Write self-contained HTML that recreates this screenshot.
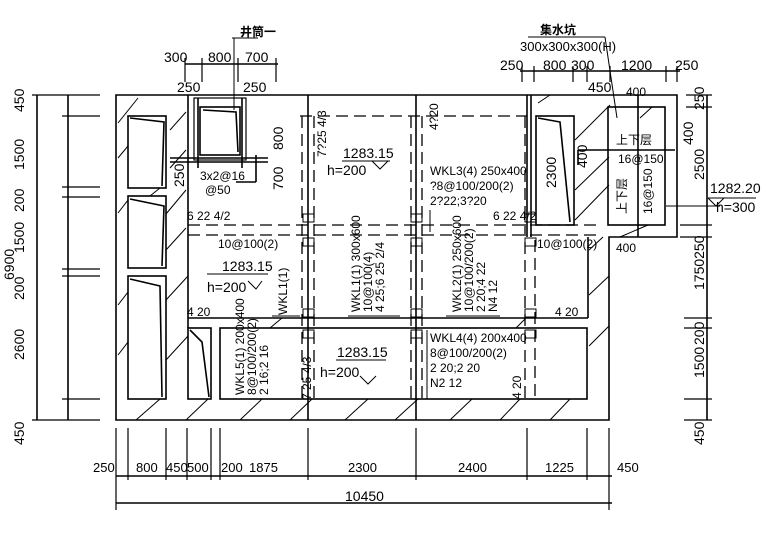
<!DOCTYPE html>
<html><head><meta charset="utf-8"><style>
html,body{margin:0;padding:0;background:#fff;width:780px;height:536px;overflow:hidden}
svg{display:block}
text{font-family:"Liberation Sans Narrow","Liberation Sans","Noto Sans CJK SC",sans-serif;fill:#000}
</style></head><body>
<svg width="780" height="536" viewBox="0 0 780 536" xmlns="http://www.w3.org/2000/svg">
<g stroke="#000" stroke-width="1.6" fill="none">
<path d="M116 95 H677 V237 H609 V420 H116 Z"/>
<line x1="188" y1="95" x2="188" y2="328"/>
<line x1="188" y1="318" x2="588" y2="318"/>
<line x1="588" y1="237" x2="588" y2="318"/>
<line x1="308" y1="95" x2="308" y2="420"/>
<line x1="416" y1="95" x2="416" y2="420"/>
<line x1="527" y1="95" x2="527" y2="237"/>
<line x1="531" y1="95" x2="531" y2="237"/>
<rect x="128" y="116" width="38" height="72"/>
<rect x="128" y="196" width="38" height="72"/>
<rect x="128" y="276" width="38" height="123"/>
<rect x="188" y="328" width="23" height="71"/>
<rect x="220" y="328" width="367" height="71"/>
<rect x="200" y="107" width="40" height="48"/>
<rect x="536" y="116" width="38" height="109"/>
<rect x="608" y="107" width="57" height="118"/>
<line x1="638" y1="95" x2="638" y2="237"/>
<line x1="578" y1="150" x2="675" y2="150"/>
<line x1="578" y1="150" x2="578" y2="165"/>
<path d="M130 118 L164 122 L162 186"/><path d="M130 199 L164 206 L162 266"/><path d="M130 279 L160 286 L162 397"/>
<path d="M190 330 L202 342 L209 397"/><path d="M538 118 L560 122 L570 222"/><path d="M203 110 L236 112 L238 152"/>
<rect x="194" y="98" width="52" height="62" stroke-width="1.2"/>
<line x1="198" y1="98" x2="198" y2="168"/><line x1="242" y1="98" x2="242" y2="168"/>
<line x1="170" y1="158" x2="268" y2="158"/><line x1="170" y1="162" x2="268" y2="162"/>
<line x1="256" y1="155" x2="256" y2="182"/><line x1="236" y1="182" x2="256" y2="182"/>
<g stroke-width="1">
<path d="M118 123 L138 98 M118 158 L128 146 M170 130 L186 112 M170 168 L186 150 M118 213 L128 200 M166 214 L186 190 M166 250 L186 228 M150 196 L160 188 M118 305 L128 292 M118 355 L128 342 M166 300 L188 276 M166 360 L188 336 M136 420 L160 399 M186 420 L208 399 M240 420 L262 399 M290 420 L312 399 M345 420 L368 399 M395 420 L418 399 M450 420 L472 399 M500 420 L520 399 M550 420 L570 399 M589 346 L609 326 M589 295 L609 276 M589 250 L603 237 M538 103 L550 95 M575 140 L610 105 M575 190 L609 157 M575 220 L609 185 M270 328 L282 318 M516 328 L526 318 M620 237 L648 225 M640 118 L652 107"/>
</g>
<g stroke-dasharray="12,6" stroke-width="1.3">
<line x1="300" y1="116" x2="527" y2="116"/>
<line x1="188" y1="225" x2="600" y2="225"/>
<line x1="188" y1="235" x2="600" y2="235"/>
<line x1="302" y1="116" x2="302" y2="399"/><line x1="314" y1="116" x2="314" y2="399"/>
<line x1="411" y1="116" x2="411" y2="399"/><line x1="422" y1="116" x2="422" y2="399"/>
<line x1="525" y1="116" x2="525" y2="399"/><line x1="535" y1="240" x2="535" y2="399"/>
</g>
<g stroke-width="1">
<rect x="303" y="214" width="11" height="8"/><rect x="303" y="238" width="11" height="8"/>
<rect x="411" y="214" width="11" height="8"/><rect x="411" y="238" width="11" height="8"/>
<rect x="525" y="214" width="11" height="8"/><rect x="525" y="238" width="11" height="8"/>
<rect x="303" y="309" width="11" height="8"/><rect x="303" y="330" width="11" height="8"/>
<rect x="411" y="309" width="11" height="8"/><rect x="411" y="330" width="11" height="8"/>
<rect x="525" y="309" width="11" height="8"/><rect x="525" y="330" width="11" height="8"/>
</g>
<g stroke-width="1">
<line x1="232" y1="38" x2="258" y2="38"/><line x1="234" y1="38" x2="234" y2="110"/>
<line x1="528" y1="37" x2="605" y2="37"/><line x1="605" y1="37" x2="617" y2="118"/>
<line x1="342" y1="161" x2="390" y2="161"/><path d="M372 161 L380 169 L388 161"/>
<line x1="207" y1="274" x2="268" y2="274"/><path d="M248 281 L256 289 L262 281"/>
<line x1="336" y1="360" x2="386" y2="360"/><path d="M360 376 L368 384 L376 376"/>
<line x1="708" y1="198" x2="756" y2="198"/><path d="M708 198 L716 206 L724 198"/><line x1="666" y1="206" x2="720" y2="206"/>
<line x1="430" y1="210" x2="430" y2="232"/><line x1="427" y1="330" x2="427" y2="399"/>
<line x1="272" y1="316" x2="300" y2="316"/><line x1="348" y1="316" x2="400" y2="316"/><line x1="446" y1="316" x2="500" y2="316"/>
</g>
<line x1="37" y1="95" x2="37" y2="420"/><line x1="68" y1="95" x2="68" y2="420"/>
<g stroke-width="1.2"><path d="M32 95H100 M62 116H100 M62 187H100 M62 197H100 M62 269H100 M62 276H100 M62 399H100 M32 420H100"/></g>
<line x1="707" y1="95" x2="707" y2="420"/>
<g stroke-width="1.2"><path d="M686 95H712 M686 107H712 M680 225H712 M680 237H712 M684 318H712 M684 328H712 M684 399H712 M684 420H712"/></g>
<line x1="116" y1="476" x2="612" y2="476"/><line x1="116" y1="503" x2="612" y2="503"/>
<g stroke-width="1.2"><path d="M116 428V510 M128 428V480 M166 428V480 M187 428V480 M211 428V480 M220 428V480 M308 428V480 M416 428V480 M527 428V480 M587 428V480 M609 428V510"/></g>
<line x1="185" y1="64" x2="278" y2="64"/>
<g stroke-width="1.2"><path d="M185 58V82 M202 58V82 M238 58V82 M276 58V82"/></g>
<line x1="520" y1="71" x2="680" y2="71"/>
<g stroke-width="1.2"><path d="M522 66V82 M534 66V82 M573 66V82 M587 66V82 M610 66V82 M666 66V82 M677 66V82"/></g>
</g>
<g font-size="14">
<text x="240" y="36" font-size="12" font-weight="bold">井筒一</text>
<text x="164" y="62">300</text><text x="208" y="62">800</text><text x="245" y="62">700</text>
<text x="177" y="92">250</text><text x="243" y="92">250</text>
<text x="540" y="34" font-size="12" font-weight="bold">集水坑</text>
<text x="520" y="51" font-size="13">300x300x300(H)</text>
<text x="500" y="70">250</text><text x="543" y="70">800</text><text x="571" y="70">300</text><text x="621" y="70">1200</text><text x="675" y="70">250</text>
<text x="588" y="92">450</text><text x="626" y="96" font-size="12">400</text>
<text x="616" y="252" font-size="12">400</text>
<text x="343" y="158">1283.15</text><text x="327" y="175">h=200</text>
<text x="222" y="271">1283.15</text><text x="207" y="292">h=200</text>
<text x="337" y="357">1283.15</text><text x="320" y="377">h=200</text>
<text x="710" y="193">1282.20</text><text x="716" y="212">h=300</text>
<text x="345" y="501">10450</text>
<g font-size="13">
<text x="93" y="472">250</text><text x="136" y="472">800</text><text x="166" y="472">450</text><text x="187" y="472">500</text>
<text x="221" y="472">200</text><text x="249" y="472">1875</text><text x="348" y="472">2300</text><text x="458" y="472">2400</text>
<text x="545" y="472">1225</text><text x="617" y="472">450</text>
</g>
</g>
<g font-size="12">
<text x="187" y="220">6 22 4/2</text><text x="493" y="220">6 22 4/2</text>
<text x="218" y="248">10@100(2)</text><text x="537" y="248">10@100(2)</text>
<text x="187" y="316">4 20</text><text x="555" y="316">4 20</text>
<text x="430" y="175">WKL3(4) 250x400</text><text x="430" y="190">?8@100/200(2)</text><text x="430" y="205">2?22;3?20</text>
<text x="430" y="342">WKL4(4) 200x400</text><text x="430" y="357">8@100/200(2)</text><text x="430" y="372">2 20;2 20</text><text x="430" y="387">N2 12</text>
<text x="200" y="180">3x2@16</text><text x="205" y="194">@50</text>
<text x="616" y="144">上下层</text><text x="618" y="163">16@150</text>
</g>
<g font-size="14">
<text transform="translate(24,112) rotate(-90)">450</text>
<text transform="translate(24,170) rotate(-90)">1500</text>
<text transform="translate(24,212) rotate(-90)">200</text>
<text transform="translate(24,253) rotate(-90)">1500</text>
<text transform="translate(14,280) rotate(-90)">6900</text>
<text transform="translate(24,300) rotate(-90)">200</text>
<text transform="translate(24,360) rotate(-90)">2600</text>
<text transform="translate(24,445) rotate(-90)">450</text>
<text transform="translate(704,110) rotate(-90)">250</text>
<text transform="translate(704,180) rotate(-90)">2500</text>
<text transform="translate(704,290) rotate(-90)">1750250</text>
<text transform="translate(704,345) rotate(-90)">200</text>
<text transform="translate(704,378) rotate(-90)">1500</text>
<text transform="translate(704,445) rotate(-90)">450</text>
<text transform="translate(283,150) rotate(-90)">800</text>
<text transform="translate(283,190) rotate(-90)">700</text>
<text transform="translate(184,187) rotate(-90)">250</text>
<text transform="translate(556,188) rotate(-90)">2300</text>
<text transform="translate(587,168) rotate(-90)">400</text>
<text transform="translate(693,145) rotate(-90)">400</text>
</g>
<g font-size="12">
<text transform="translate(326,157) rotate(-90)">7?25 4/3</text>
<text transform="translate(438,130) rotate(-90)">4?20</text>
<text transform="translate(311,400) rotate(-90)">7 25 4/3</text>
<text transform="translate(521,399) rotate(-90)">4 20</text>
<text transform="translate(287,315) rotate(-90)">WKL1(1)</text>
<text transform="translate(360,312) rotate(-90)">WKL1(1) 300x600</text>
<text transform="translate(372,312) rotate(-90)">10@100(4)</text>
<text transform="translate(384,312) rotate(-90)">4 25;6 25 2/4</text>
<text transform="translate(461,312) rotate(-90)">WKL2(1) 250x600</text>
<text transform="translate(473,312) rotate(-90)">10@100/200(2)</text>
<text transform="translate(485,312) rotate(-90)">2 20;4 22</text>
<text transform="translate(497,312) rotate(-90)">N4 12</text>
<text transform="translate(244,395) rotate(-90)">WKL5(1) 200x400</text>
<text transform="translate(256,395) rotate(-90)">8@100/200(2)</text>
<text transform="translate(268,395) rotate(-90)">2 16;2 16</text>
<text transform="translate(626,214) rotate(-90)">上下层</text>
<text transform="translate(652,214) rotate(-90)">16@150</text>
</g>
</svg>
</body></html>
